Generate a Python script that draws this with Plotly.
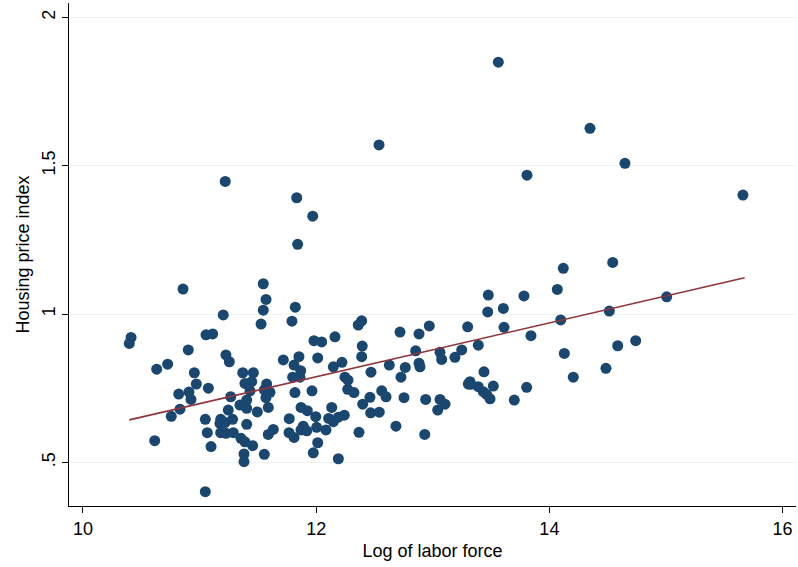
import plotly.graph_objects as go

# Log of labor force (x) and housing price index (y)
labor_force_log = [
    11.049, 11.203, 10.412, 10.397, 11.055, 11.112, 10.903, 11.226, 11.255, 10.632,
    10.726, 10.955, 10.972, 11.075, 10.821, 10.909, 10.926, 10.832, 10.757, 11.267,
    11.246, 11.049, 11.181, 11.175, 11.218, 11.066, 11.181, 11.226, 11.098, 10.615,
    11.570, 11.546, 11.821, 11.527, 11.792, 11.981, 12.047, 12.161, 11.718, 11.852,
    11.810, 11.867, 12.013, 12.147, 12.221, 12.247, 12.270, 11.370, 11.461, 11.389,
    11.447, 11.575, 11.555, 11.604, 11.432, 11.798, 11.861, 11.818, 11.964, 11.569,
    11.589, 11.404, 11.346, 11.404, 11.495, 11.283, 11.870, 11.924, 11.996, 11.769,
    12.133, 12.107, 12.147, 12.190, 12.241, 11.889, 11.870, 11.919, 12.004, 12.084,
    11.404, 11.632, 11.589, 11.767, 11.810, 11.289, 11.355, 11.389, 11.455, 12.013,
    11.975, 11.381, 11.381, 11.555, 12.190, 12.390, 12.361, 12.719, 12.882, 12.970,
    13.299, 12.395, 12.390, 12.470, 12.627, 12.764, 12.727, 12.853, 12.882, 12.890,
    13.062, 13.076, 13.190, 13.248, 13.305, 12.273, 12.324, 12.461, 12.399, 12.562,
    12.599, 12.753, 12.939, 13.062, 13.105, 13.042, 12.467, 12.541, 12.684, 12.367,
    12.931, 14.119, 13.476, 13.782, 14.068, 13.471, 13.605, 13.611, 14.097, 13.842,
    13.390, 14.128, 14.205, 13.439, 13.319, 13.325, 13.390, 13.433, 13.462, 13.491,
    13.519, 13.699, 13.805, 14.543, 14.514, 15.006, 14.586, 14.740, 14.485, 13.562,
    14.348, 14.648, 13.808, 11.220, 11.833, 11.970, 11.841, 11.546, 12.539, 15.660,
    10.858,
]
housing_price_index = [
    0.401, 0.997, 0.921, 0.901, 0.930, 0.933, 0.879, 0.862, 0.839, 0.814,
    0.831, 0.802, 0.764, 0.750, 0.730, 0.737, 0.712, 0.679, 0.655, 0.721,
    0.676, 0.645, 0.645, 0.631, 0.634, 0.600, 0.600, 0.598, 0.553, 0.573,
    1.049, 1.013, 1.023, 0.966, 0.976, 0.910, 0.906, 0.923, 0.845, 0.856,
    0.828, 0.809, 0.852, 0.822, 0.837, 0.787, 0.746, 0.802, 0.802, 0.766,
    0.772, 0.764, 0.744, 0.736, 0.741, 0.787, 0.787, 0.735, 0.741, 0.718,
    0.685, 0.710, 0.693, 0.682, 0.670, 0.645, 0.685, 0.674, 0.654, 0.647,
    0.685, 0.648, 0.637, 0.652, 0.659, 0.622, 0.609, 0.606, 0.618, 0.609,
    0.628, 0.611, 0.594, 0.600, 0.584, 0.600, 0.581, 0.569, 0.556, 0.566,
    0.532, 0.528, 0.502, 0.527, 0.512, 0.977, 0.963, 0.939, 0.933, 0.960,
    0.957, 0.892, 0.856, 0.804, 0.828, 0.820, 0.787, 0.876, 0.834, 0.822,
    0.871, 0.847, 0.854, 0.879, 0.764, 0.777, 0.735, 0.719, 0.696, 0.741,
    0.721, 0.718, 0.712, 0.712, 0.696, 0.676, 0.667, 0.669, 0.622, 0.601,
    0.594, 1.154, 1.064, 1.061, 1.083, 1.007, 1.019, 0.955, 0.980, 0.927,
    0.895, 0.867, 0.787, 0.805, 0.772, 0.763, 0.755, 0.738, 0.729, 0.714,
    0.757, 0.710, 0.753, 1.174, 1.010, 1.058, 0.893, 0.910, 0.817, 1.849,
    1.626, 1.508, 1.468, 1.447, 1.392, 1.330, 1.235, 1.102, 1.570, 1.401,
    1.084,
]

# Fitted values line (endpoints)
fit_x = [10.397, 15.675]
fit_y = [0.643, 1.122]

x_tick_vals = [10, 12, 14, 16]
x_tick_text = ["10", "12", "14", "16"]
y_tick_vals = [0.5, 1, 1.5, 2]
y_tick_text = [".5", "1", "1.5", "2"]

FONT = "Liberation Sans, Arial, Helvetica, sans-serif"

fig = go.Figure()
fig.add_trace(go.Scatter(
    x=labor_force_log, y=housing_price_index, mode="markers",
    marker=dict(size=11, color="#1a476f", line=dict(width=0)),
    showlegend=False, hoverinfo="skip",
))
fig.add_trace(go.Scatter(
    x=fit_x, y=fit_y, mode="lines",
    line=dict(color="#90353b", width=1.6),
    showlegend=False, hoverinfo="skip",
))

fig.update_layout(
    width=798, height=567,
    margin=dict(l=69, r=2, t=3, b=61, autoexpand=False),
    paper_bgcolor="white", plot_bgcolor="white",
    font=dict(family=FONT, size=18, color="black"),
    xaxis=dict(
        range=[9.880, 16.115], tickvals=x_tick_vals, ticktext=x_tick_text,
        showgrid=False, zeroline=False, showline=True, linecolor="black", linewidth=1,
        ticks="outside", ticklen=6, tickcolor="black", tickwidth=1,
        title=dict(text="Log of labor force", font=dict(size=18), standoff=6),
        tickfont=dict(size=18), automargin=False, ticklabeloverflow="allow",
    ),
    yaxis=dict(
        range=[0.3527, 2.0486], tickvals=y_tick_vals, ticktext=y_tick_text,
        showgrid=True, gridcolor="#eaf2f3", gridwidth=1,
        zeroline=False, showline=True, linecolor="black", linewidth=1,
        ticks="outside", ticklen=6, tickcolor="black", tickwidth=1,
        tickangle=-90,
        title=dict(text="Housing price index", font=dict(size=18), standoff=4),
        tickfont=dict(size=18), automargin=False,
    ),
)

fig.write_html(
    "out.html",
    config={"displayModeBar": False},
    post_script="document.body.style.margin='0px';document.body.style.overflow='hidden';",
)
